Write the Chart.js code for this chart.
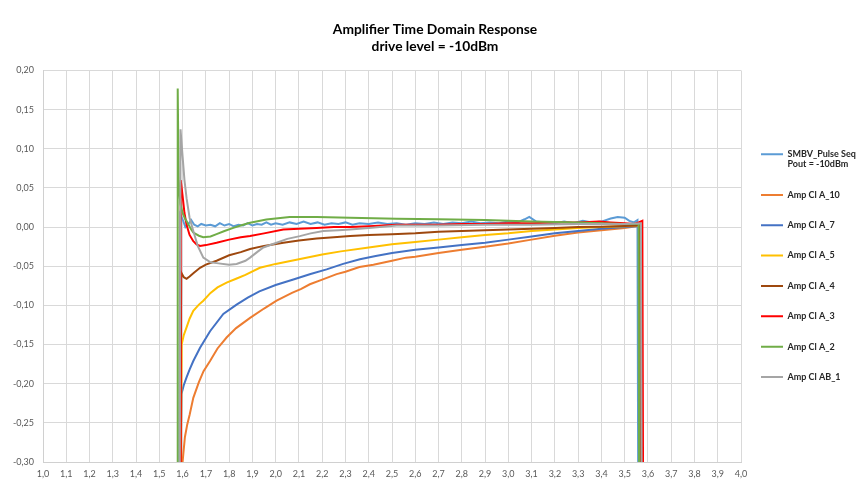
<!DOCTYPE html>
<html>
<head>
<meta charset="utf-8">
<title>Amplifier Time Domain Response</title>
<script src="https://cdn.jsdelivr.net/npm/chart.js@4.4.1/dist/chart.umd.min.js"></script>
<style>
    html, body { margin: 0; padding: 0; background: #fff; }
    #wrap { width: 861px; height: 486px; }
</style>
</head>
<body>
<div id="wrap"><canvas id="responseChart" width="861" height="486"></canvas></div>
<script>
// time, amplitude
const seriesNames = [
    'SMBV_Pulse Seq\nPout = -10dBm',
    'Amp Cl A_10',
    'Amp Cl A_7',
    'Amp Cl A_5',
    'Amp Cl A_4',
    'Amp Cl A_3',
    'Amp Cl A_2',
    'Amp Cl AB_1',
];
const seriesColors = ['#5B9BD5', '#ED7D31', '#4472C4', '#FFC000', '#9E480E', '#FF0000', '#70AD47', '#A5A5A5'];

const tSmbv = [1.586, 1.590, 1.600, 1.612, 1.625, 1.637, 1.650, 1.665, 1.680, 1.700, 1.720, 1.740, 1.760, 1.780, 1.800, 1.820, 1.840, 1.860, 1.880, 1.900, 1.920, 1.940, 1.960, 1.980, 2.000, 2.030, 2.060, 2.090, 2.120, 2.150, 2.180, 2.210, 2.240, 2.270, 2.300, 2.330, 2.360, 2.400, 2.440, 2.480, 2.520, 2.560, 2.600, 2.640, 2.680, 2.720, 2.760, 2.800, 2.840, 2.880, 2.920, 2.960, 3.000, 3.040, 3.070, 3.090, 3.120, 3.160, 3.200, 3.240, 3.280, 3.320, 3.360, 3.400, 3.440, 3.470, 3.500, 3.520, 3.540, 3.555, 3.558];
const vSmbv = [-0.31, 0.016, 0.010, 0.000, 0.004, 0.009, 0.003, 0.001, 0.004, 0.002, 0.003, 0.001, 0.005, 0.002, 0.004, 0.001, 0.003, 0.002, 0.005, 0.002, 0.004, 0.003, 0.006, 0.003, 0.005, 0.003, 0.006, 0.004, 0.007, 0.004, 0.006, 0.003, 0.005, 0.004, 0.006, 0.003, 0.005, 0.004, 0.006, 0.004, 0.005, 0.003, 0.005, 0.004, 0.006, 0.004, 0.006, 0.005, 0.007, 0.005, 0.006, 0.005, 0.007, 0.006, 0.010, 0.013, 0.007, 0.006, 0.005, 0.007, 0.005, 0.008, 0.006, 0.007, 0.011, 0.013, 0.012, 0.008, 0.006, 0.009, -0.31];

const tA10 = [1.597, 1.603, 1.610, 1.620, 1.630, 1.646, 1.670, 1.690, 1.718, 1.750, 1.789, 1.830, 1.890, 1.950, 2.004, 2.070, 2.110, 2.147, 2.200, 2.262, 2.300, 2.360, 2.420, 2.500, 2.560, 2.600, 2.700, 2.800, 2.900, 3.000, 3.100, 3.200, 3.300, 3.400, 3.500, 3.550, 3.565, 3.568];
const vA10 = [-0.31, -0.290, -0.268, -0.252, -0.240, -0.218, -0.198, -0.184, -0.171, -0.155, -0.141, -0.129, -0.116, -0.104, -0.094, -0.084, -0.079, -0.073, -0.067, -0.060, -0.057, -0.051, -0.048, -0.043, -0.039, -0.038, -0.033, -0.029, -0.025, -0.021, -0.016, -0.011, -0.007, -0.004, -0.001, 0.001, 0.004, -0.31];

const tA7 = [1.591, 1.595, 1.605, 1.617, 1.630, 1.646, 1.675, 1.718, 1.775, 1.832, 1.880, 1.930, 2.000, 2.076, 2.150, 2.219, 2.290, 2.362, 2.430, 2.500, 2.600, 2.700, 2.800, 2.900, 3.000, 3.100, 3.200, 3.300, 3.400, 3.500, 3.550, 3.563, 3.566];
const vA7 = [-0.31, -0.213, -0.202, -0.192, -0.182, -0.171, -0.154, -0.133, -0.111, -0.099, -0.090, -0.082, -0.074, -0.067, -0.060, -0.054, -0.047, -0.041, -0.037, -0.033, -0.029, -0.026, -0.023, -0.020, -0.016, -0.012, -0.008, -0.005, -0.002, 0.000, 0.001, 0.001, -0.31];

const tA5 = [1.592, 1.596, 1.605, 1.617, 1.630, 1.646, 1.670, 1.689, 1.720, 1.750, 1.789, 1.830, 1.870, 1.932, 2.000, 2.100, 2.200, 2.280, 2.400, 2.500, 2.600, 2.700, 2.800, 2.900, 3.000, 3.100, 3.200, 3.300, 3.400, 3.500, 3.550, 3.564, 3.567];
const vA5 = [-0.31, -0.150, -0.138, -0.128, -0.117, -0.107, -0.099, -0.094, -0.084, -0.077, -0.071, -0.066, -0.061, -0.052, -0.047, -0.041, -0.035, -0.031, -0.026, -0.022, -0.019, -0.016, -0.013, -0.010, -0.008, -0.005, -0.003, -0.001, 0.000, 0.001, 0.002, 0.002, -0.31];

const tA4 = [1.590, 1.594, 1.605, 1.617, 1.630, 1.650, 1.675, 1.700, 1.746, 1.800, 1.850, 1.890, 1.950, 2.033, 2.100, 2.176, 2.250, 2.320, 2.400, 2.500, 2.600, 2.700, 2.800, 2.900, 3.000, 3.100, 3.200, 3.300, 3.400, 3.500, 3.550, 3.566, 3.569];
const vA4 = [-0.31, -0.058, -0.064, -0.066, -0.063, -0.058, -0.052, -0.048, -0.043, -0.036, -0.032, -0.028, -0.024, -0.020, -0.017, -0.0145, -0.013, -0.0115, -0.010, -0.009, -0.008, -0.006, -0.005, -0.004, -0.003, -0.002, -0.001, 0.000, 0.0005, 0.0015, 0.002, 0.004, -0.31];

const tA3 = [1.589, 1.592, 1.600, 1.608, 1.617, 1.630, 1.646, 1.660, 1.675, 1.700, 1.746, 1.800, 1.850, 1.890, 1.950, 2.033, 2.100, 2.176, 2.250, 2.320, 2.400, 2.520, 2.600, 2.700, 2.800, 2.900, 3.000, 3.100, 3.200, 3.300, 3.390, 3.440, 3.500, 3.540, 3.560, 3.576, 3.579];
const vA3 = [-0.31, 0.060, 0.040, 0.018, 0.003, -0.010, -0.018, -0.022, -0.024, -0.023, -0.020, -0.016, -0.013, -0.0115, -0.008, -0.003, -0.002, -0.001, 0.000, 0.000, 0.001, 0.003, 0.003, 0.003, 0.004, 0.004, 0.005, 0.005, 0.006, 0.006, 0.007, 0.006, 0.005, 0.004, 0.006, 0.008, -0.31];

const tA2 = [1.576, 1.579, 1.583, 1.590, 1.600, 1.610, 1.617, 1.635, 1.646, 1.670, 1.689, 1.720, 1.746, 1.780, 1.818, 1.860, 1.890, 1.960, 2.060, 2.176, 2.320, 2.520, 2.700, 2.900, 3.100, 3.300, 3.500, 3.555, 3.560, 3.562];
const vA2 = [-0.31, 0.177, 0.060, 0.030, 0.018, 0.011, 0.0077, -0.002, -0.007, -0.011, -0.0128, -0.012, -0.009, -0.005, -0.001, 0.003, 0.0055, 0.0098, 0.0128, 0.0128, 0.012, 0.0106, 0.010, 0.009, 0.007, 0.006, 0.004, 0.004, 0.004, -0.31];

const tAB1 = [1.588, 1.591, 1.600, 1.608, 1.617, 1.630, 1.646, 1.665, 1.689, 1.720, 1.746, 1.800, 1.832, 1.870, 1.890, 1.920, 1.947, 2.004, 2.050, 2.104, 2.150, 2.205, 2.270, 2.320, 2.400, 2.520, 2.700, 2.900, 3.100, 3.300, 3.500, 3.570, 3.573];
const vAB1 = [-0.31, 0.125, 0.090, 0.060, 0.037, 0.012, -0.005, -0.024, -0.039, -0.045, -0.046, -0.048, -0.047, -0.043, -0.039, -0.032, -0.026, -0.020, -0.015, -0.0115, -0.008, -0.005, -0.004, -0.003, -0.001, 0.002, 0.002, 0.003, 0.003, 0.004, 0.004, 0.005, -0.31];

const seriesTimes = [tSmbv, tA10, tA7, tA5, tA4, tA3, tA2, tAB1];
const seriesValues = [vSmbv, vA10, vA7, vA5, vA4, vA3, vA2, vAB1];

const xMin = 1.0, xMax = 4.0, xStep = 0.1;
const yMin = -0.30, yMax = 0.20, yStep = 0.05;

const chartTitle = ['Amplifier Time Domain Response', 'drive level = -10dBm'];

const commaFmt = (digits) => (value) => Number(value).toFixed(digits).replace('.', ',');

const datasets = seriesNames.map((name, i) => ({
    label: name,
    data: seriesTimes[i].map((t, k) => ({ x: t, y: seriesValues[i][k] })),
    borderColor: seriesColors[i],
    backgroundColor: seriesColors[i],
    borderWidth: 2,
    pointRadius: 0,
    tension: 0,
    order: -i, // later series on top, like the spreadsheet
}));

new Chart(document.getElementById('responseChart'), {
    type: 'line',
    data: { datasets },
    options: {
        responsive: false,
        animation: false,
        layout: { padding: { left: 9, right: 0, top: 0, bottom: 0 } },
        plugins: {
            title: {
                display: true,
                text: chartTitle,
                color: '#000',
                font: { family: 'Lato', size: 13.8, weight: 'bold', lineHeight: 1.25 },
                padding: { top: 21, bottom: 15 },
            },
            legend: {
                position: 'right',
                fullSize: false,
                maxWidth: 120,
                labels: {
                    usePointStyle: true,
                    pointStyle: 'line',
                    pointStyleWidth: 22,
                    padding: 20,
                    color: '#262626',
                    font: { family: 'Lato', size: 9, weight: 'bold', lineHeight: 1.15 },
                    sort: (a, b) => a.datasetIndex - b.datasetIndex,
                    generateLabels: (chart) => {
                        const items = Chart.defaults.plugins.legend.labels.generateLabels(chart);
                        return items.map((item) => ({ ...item, text: item.text.split('\n') }));
                    },
                },
            },
            tooltip: { enabled: false },
        },
        scales: {
            x: {
                type: 'linear',
                min: xMin,
                max: xMax,
                afterFit: (scale) => { scale.height = 24; },
                grid: { color: '#d9d9d9', drawTicks: false },
                border: { color: '#d0d0d0' },
                ticks: {
                    stepSize: xStep,
                    autoSkip: false,
                    maxRotation: 0,
                    padding: 7,
                    color: '#595959',
                    font: { family: 'Lato', size: 9 },
                    callback: commaFmt(1),
                },
            },
            y: {
                min: yMin,
                max: yMax,
                afterFit: (scale) => { scale.width = 34; },
                grid: { color: '#d9d9d9', drawTicks: false },
                border: { color: '#d0d0d0' },
                ticks: {
                    stepSize: yStep,
                    padding: 9,
                    color: '#595959',
                    font: { family: 'Lato', size: 9 },
                    callback: commaFmt(2),
                },
            },
        },
    },
});
</script>
</body>
</html>
